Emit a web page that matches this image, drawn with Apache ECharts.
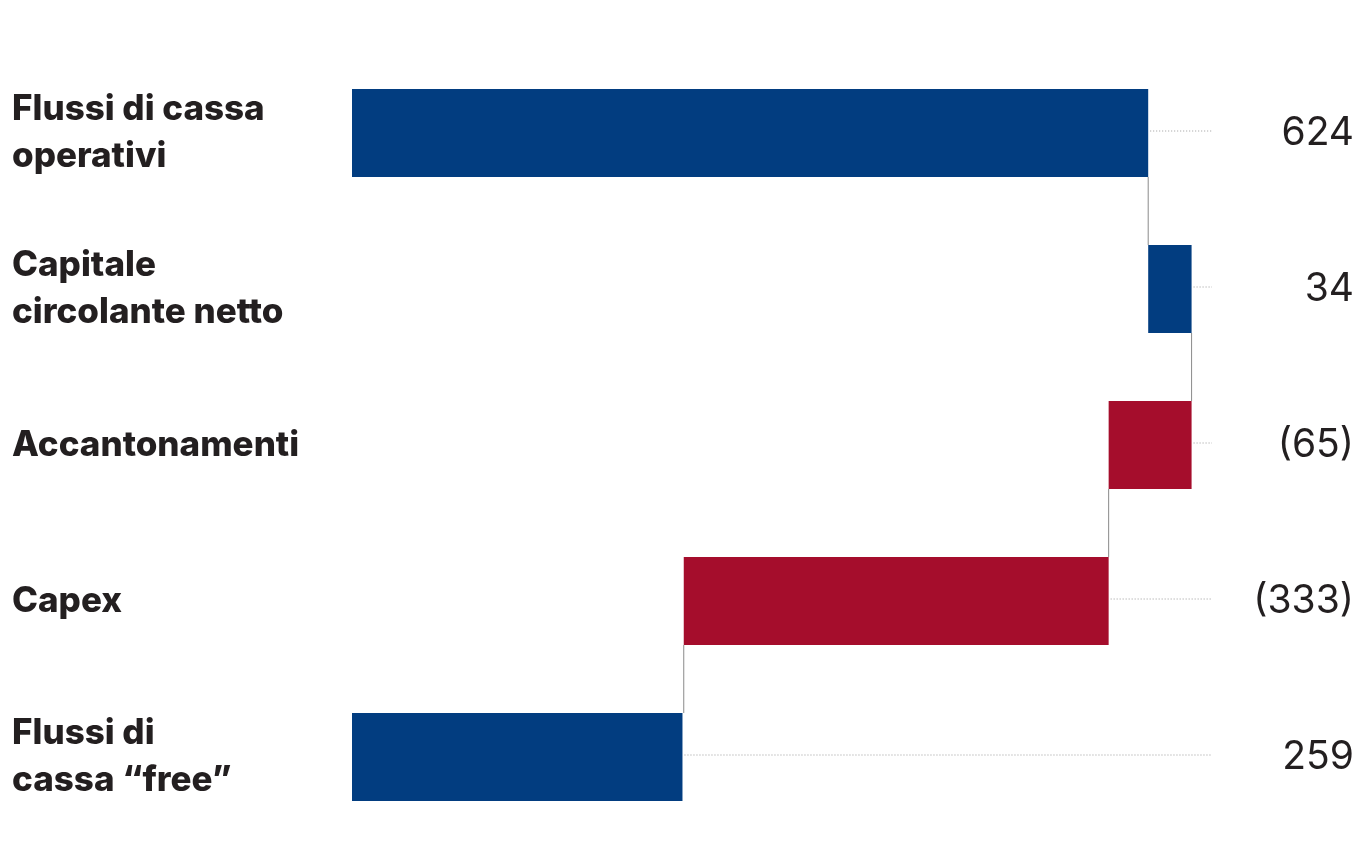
<!DOCTYPE html>
<html>
<head>
    <meta charset="utf-8">
    <title>Flussi di cassa</title>
    <script src="https://cdn.jsdelivr.net/npm/echarts@6.0.0/dist/echarts.min.js"></script>
    <style>
        html, body { margin: 0; padding: 0; background: #fff; }
    </style>
</head>
<body>
    <div id="chart" style="width:1355px;height:859px"></div>
</body>
<script>
    // dati
    var categories = ['Flussi di cassa\noperativi', 'Capitale\ncircolante netto', 'Accantonamenti', 'Capex', 'Flussi di\ncassa \u201cfree\u201d'];
    var values = [624, 34, -65, -333, 259];
    var isTotal = [true, false, false, false, true];

    var blue = '#023d80';
    var red = '#a50d2c';
    var ink = '#231f20';

    // inizio/fine di ogni barra
    var rows = [];
    var run = 0;
    for (var i = 0; i < values.length; i++) {
        var start = isTotal[i] ? 0 : run;
        var end = start + values[i];
        run = end;
        rows.push([start, end, i]);
    }
    var valueLabels = values.map(function (v) {
        return v < 0 ? '(' + Math.abs(v) + ')' : String(v);
    });

    var chart = echarts.init(document.getElementById('chart'));

    function renderItem(params, api) {
        var idx = params.dataIndex;
        var start = api.value(0), end = api.value(1);
        var p0 = api.coord([start, idx]);
        var p1 = api.coord([end, idx]);
        var h = 88;
        var x0 = Math.min(p0[0], p1[0]), x1 = Math.max(p0[0], p1[0]);
        var right = params.coordSys.x + params.coordSys.width;
        var children = [{
            type: 'rect',
            shape: { x: x0, y: p0[1] - h / 2, width: x1 - x0, height: h },
            style: { fill: end >= start ? blue : red }
        }, {
            type: 'line',
            shape: { x1: x1 + 2, y1: p0[1] - 2, x2: right, y2: p0[1] - 2 },
            style: { stroke: '#9a9a9a', lineWidth: 1, lineDash: [1, 2] }
        }];
        if (idx < rows.length - 1) {
            var next = api.coord([end, idx + 1]);
            children.push({
                type: 'line',
                shape: { x1: p1[0], y1: p0[1] + h / 2, x2: p1[0], y2: next[1] - h / 2 },
                style: { stroke: '#8a8a8a', lineWidth: 1 }
            });
        }
        return { type: 'group', children: children };
    }

    var option = {
        backgroundColor: '#fff',
        animation: false,
        grid: { left: 352, right: 143, top: 55, bottom: 24, outerBoundsMode: 'none' },
        xAxis: {
            type: 'value', min: 0, max: 674, show: false
        },
        yAxis: [{
            type: 'category',
            data: categories,
            inverse: true,
            axisLine: { show: false },
            axisTick: { show: false },
            axisLabel: {
                align: 'left',
                margin: 340,
                color: ink,
                fontFamily: 'Inter',
                fontWeight: 800,
                fontSize: 35,
                lineHeight: 47
            }
        }, {
            type: 'category',
            data: valueLabels,
            inverse: true,
            position: 'right',
            axisLine: { show: false },
            axisTick: { show: false },
            axisLabel: {
                align: 'right',
                margin: 142,
                color: ink,
                fontFamily: 'Inter',
                fontWeight: 400,
                fontSize: 39
            }
        }],
        series: [{
            type: 'custom',
            renderItem: renderItem,
            encode: { x: [0, 1], y: 2 },
            data: rows
        }]
    };
    chart.setOption(option);
</script>
</html>
